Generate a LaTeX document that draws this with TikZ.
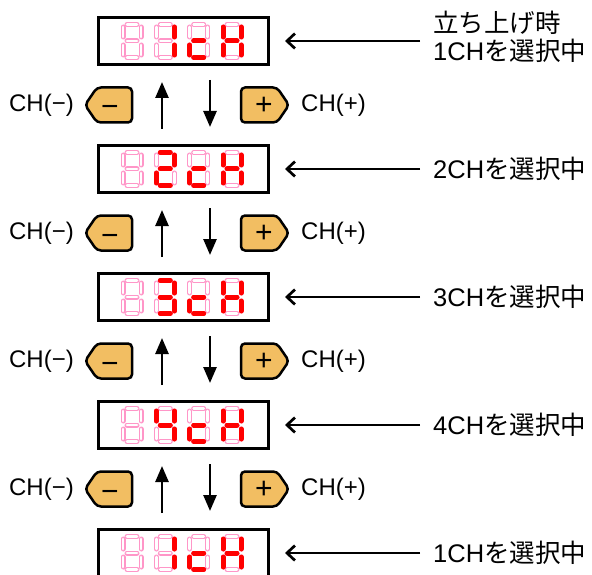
\documentclass[tikz,border=0pt]{standalone}
\usepackage{fontspec}
\setmainfont{Liberation Sans}
\newfontfamily\jpfont{Noto Sans CJK JP}
\usetikzlibrary{arrows.meta,positioning}
\definecolor{segred}{RGB}{255,0,0}
\definecolor{segpink}{RGB}{255,150,200}
\definecolor{keyfill}{RGB}{242,190,98}

\tikzset{
  segment a/.style={insert path={(-5,-16.5) -- (5,-16.5)}},
  segment b/.style={insert path={(9,-14) -- (9,-4)}},
  segment c/.style={insert path={(9,4) -- (9,14)}},
  segment d/.style={insert path={(-5,16.5) -- (5,16.5)}},
  segment e/.style={insert path={(-9,4) -- (-9,14)}},
  segment f/.style={insert path={(-9,-14) -- (-9,-4)}},
  segment g/.style={insert path={(-5,0) -- (5,0)}},
  segment none/.style={},
  seg off/.style={draw=segpink, line width=5pt, line cap=round},
  seg hole/.style={draw=white, line width=2.8pt, line cap=round},
  seg on/.style={draw=segred, line width=5pt, line cap=round},
  display/.style={draw, line width=3pt, minimum width=170pt, minimum height=47pt, inner sep=0pt},
  keycap/.style={draw, line width=2.5pt, fill=keyfill, rounded corners=4pt, line join=round},
  keysign/.style={anchor=base, inner sep=0pt, font=\fontsize{30}{34}\selectfont},
  chtext/.style={inner sep=0pt, font=\fontsize{24}{28}\selectfont},
  note/.style={anchor=west, inner sep=0pt, align=left, font=\fontsize{25.5}{28}\selectfont},
  move/.style={-{Triangle[width=13pt,length=16pt]}, line width=2.6pt},
  pointer/.style={-{Straight Barb[length=8pt,width=15pt]}, line width=2.7pt, shorten <=13pt, shorten >=15.5pt}
}

% one seven-segment digit: x, y, lit segments
\newcommand{\segdigit}[3]{%
  \foreach \s in {a,b,c,d,e,f,g}{%
    \draw[seg off, shift={(#1,#2)}, segment \s];
    \draw[seg hole, shift={(#1,#2)}, segment \s];}
  \foreach \s in {#3}{\draw[seg on, shift={(#1,#2)}, segment \s];}}

% display: number, y, segments of the channel digit
\newcommand{\readout}[3]{%
  \node[display] (d#1) at (183,#2) {};
  \segdigit{132}{#2}{none}
  \segdigit{165.3}{#2}{#3}
  \segdigit{198.7}{#2}{d,e,g}
  \segdigit{232}{#2}{b,c,e,f,g}}

% keys and arrows between two displays: upper, lower, y
\newcommand{\keyrow}[3]{%
  \draw[keycap] (85,#3) -- ++(12,-17.5) -- ++(35,0) -- ++(0,35) -- ++(-35,0) -- cycle;
  \draw[keycap] (289,#3) -- ++(-12,-17.5) -- ++(-36,0) -- ++(0,35) -- ++(36,0) -- cycle;
  \node[keysign] (minus#1) at (110,{#3+12}) {−};
  \node[keysign] (plus#1) at (264,{#3+9.5}) {+};
  \node[chtext, anchor=east] (chm#1) at (74,#3) {CH(−)};
  \node[chtext, anchor=west] (chp#1) at (301,#3) {CH(+)};
  \draw[move, shorten <=15pt, shorten >=16pt] ([xshift=-21pt]d#2.north) -- ([xshift=-21pt]d#1.south);
  \draw[move, shorten <=14pt, shorten >=17pt] ([xshift=27pt]d#1.south) -- ([xshift=27pt]d#2.north);}

\begin{document}
\begin{tikzpicture}[x=1pt,y=-1pt]
  \useasboundingbox (0,0) rectangle (592,575);

  \readout{1}{41}{b,c}
  \readout{2}{169}{a,b,g,e,d}
  \readout{3}{297}{a,b,g,c,d}
  \readout{4}{425}{f,g,b,c}
  \readout{5}{553}{b,c}

  \keyrow{1}{2}{105}
  \keyrow{2}{3}{233}
  \keyrow{3}{4}{361}
  \keyrow{4}{5}{489}

  % channel notes
  \node[note] (t1) at (433,37) {{\jpfont 立ち上げ時}\\1CH{\jpfont を選択中}};
  \node[note] (t2) at (433,169) {2CH{\jpfont を選択中}};
  \node[note] (t3) at (433,297) {3CH{\jpfont を選択中}};
  \node[note] (t4) at (433,425) {4CH{\jpfont を選択中}};
  \node[note] (t5) at (433,553) {1CH{\jpfont を選択中}};

  \foreach \i in {1,...,5}
    \draw[pointer] (t\i.west |- d\i) -- (d\i.east);
\end{tikzpicture}
\end{document}
